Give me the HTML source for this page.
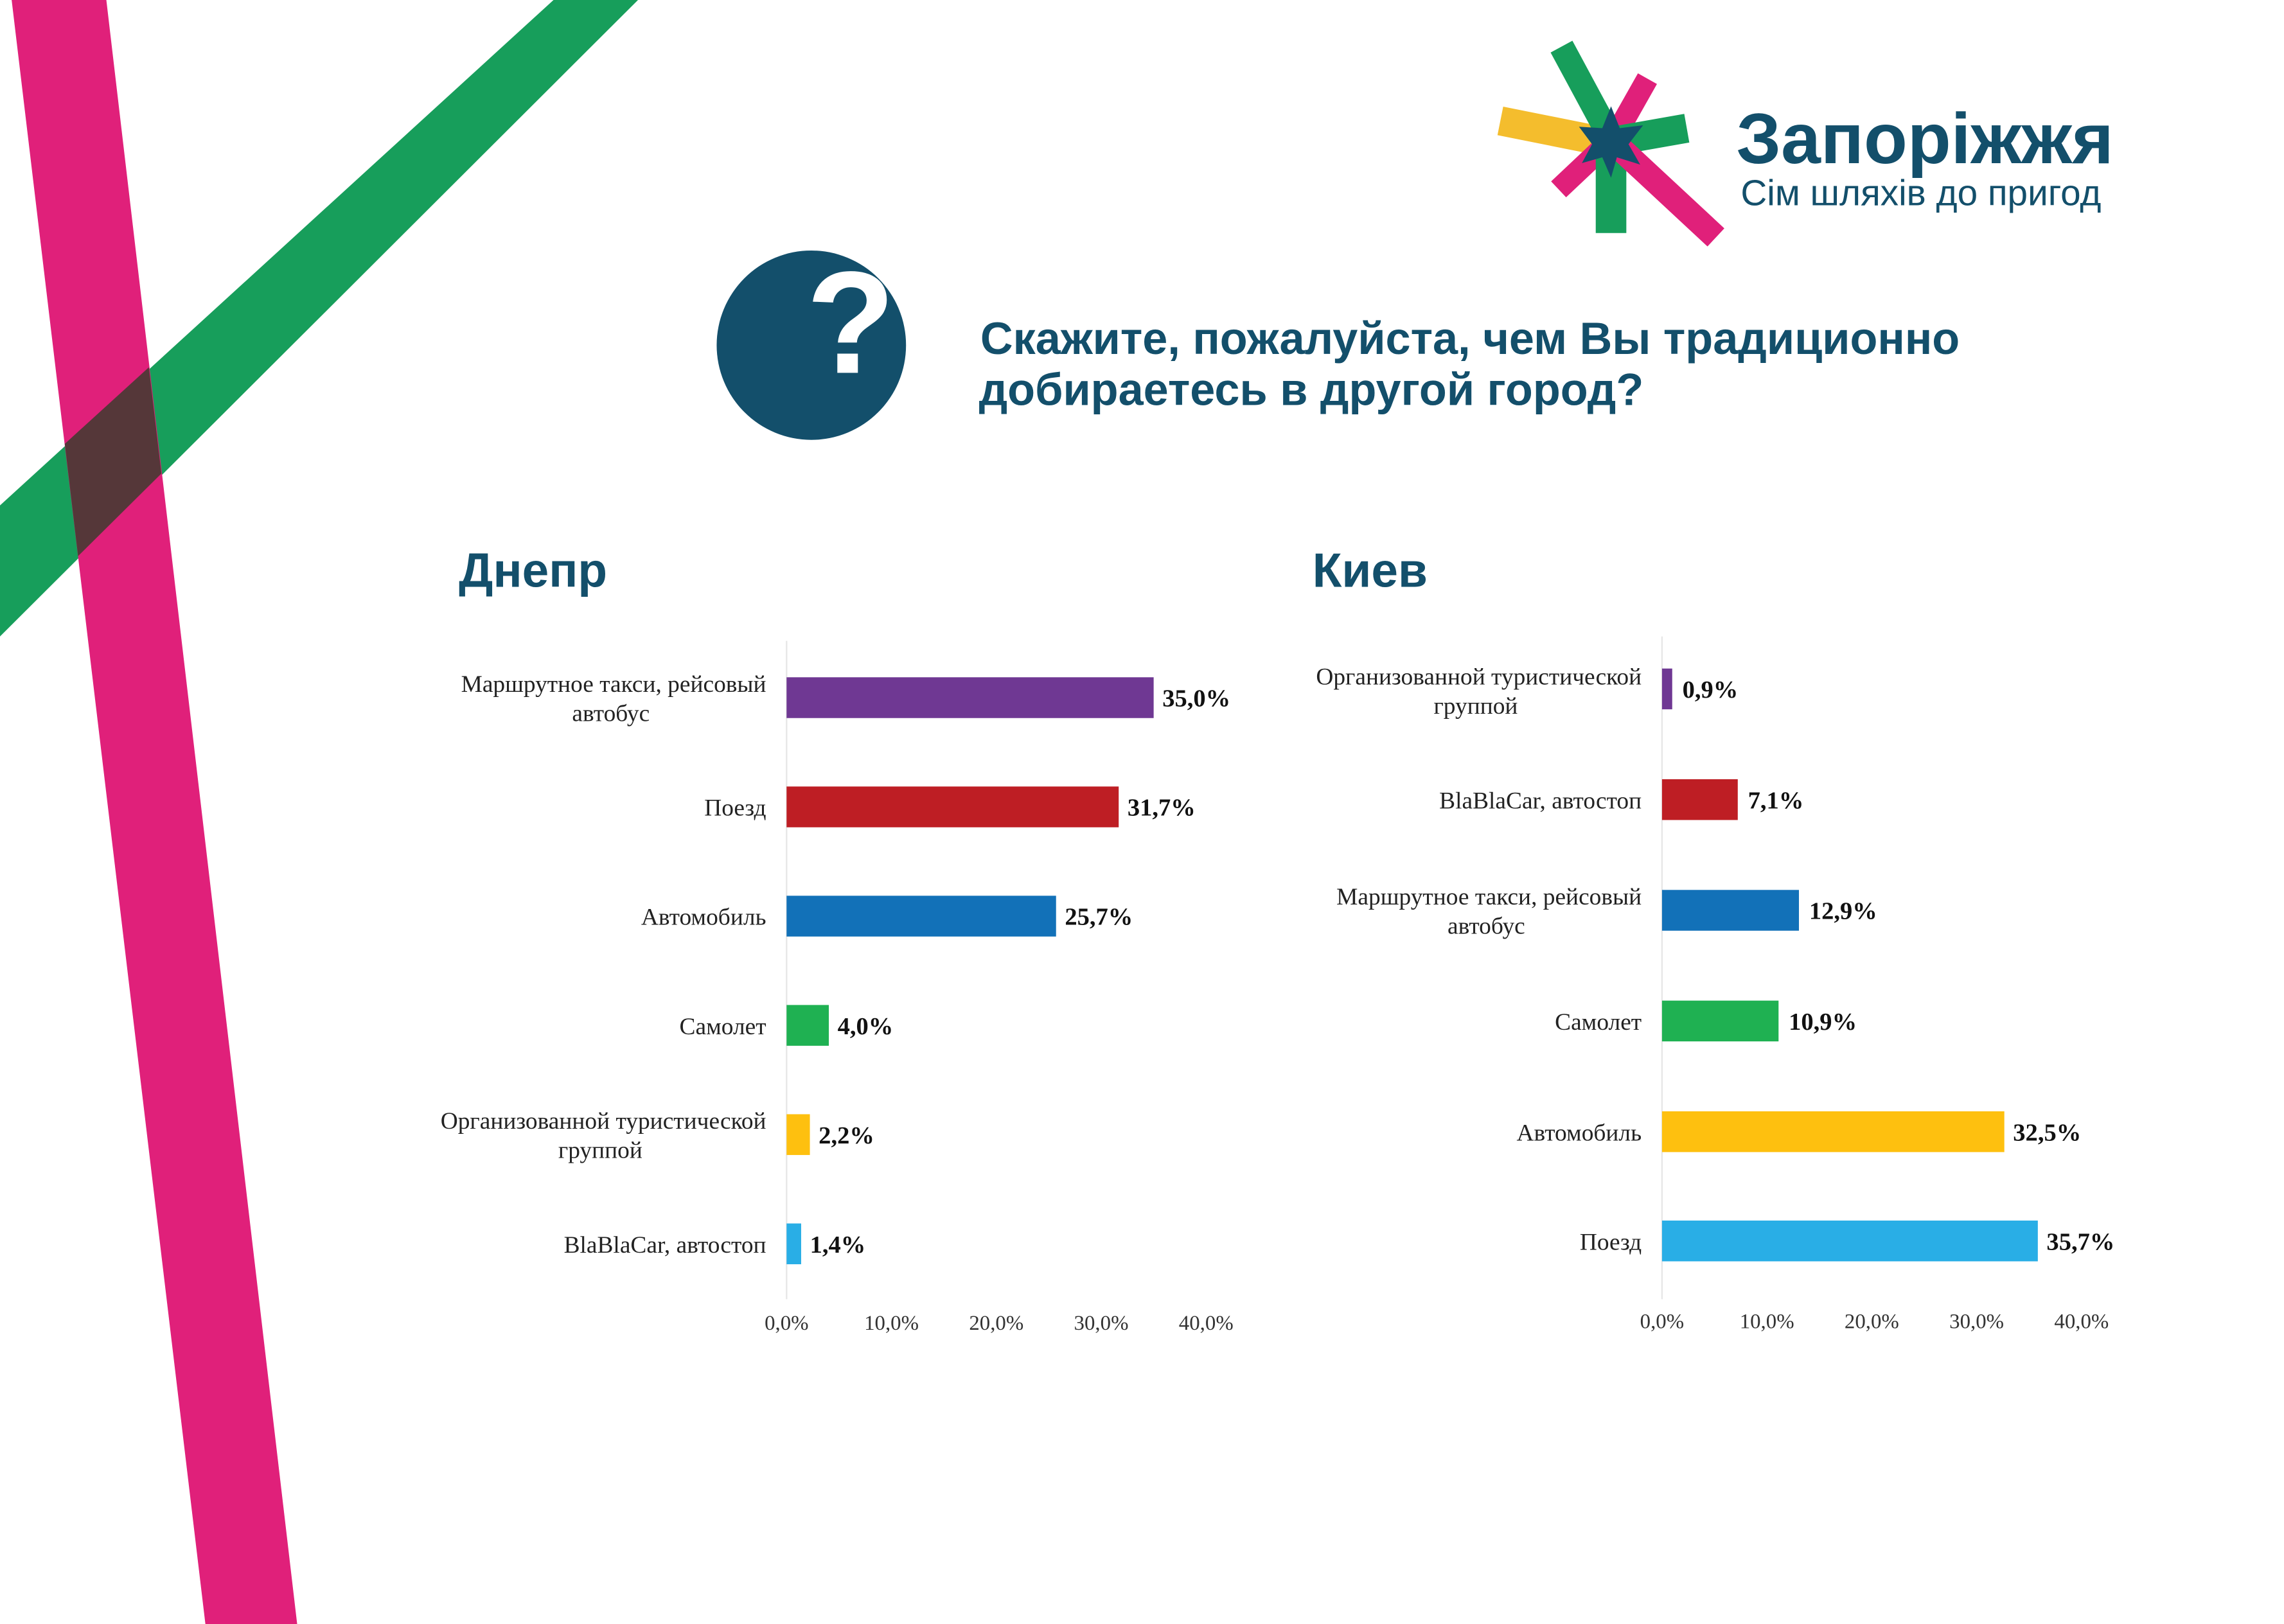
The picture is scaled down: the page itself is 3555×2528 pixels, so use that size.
<!DOCTYPE html>
<html><head><meta charset="utf-8"><style>
html,body{margin:0;padding:0;background:#fff;}
svg{display:block;}
.lab{font-family:"Liberation Serif",serif;font-size:16.5px;fill:#222;}
.val{font-family:"Liberation Serif",serif;font-size:17px;font-weight:bold;fill:#111;}
.tick{font-family:"Liberation Serif",serif;font-size:14.5px;fill:#333;}
.sans{font-family:"Liberation Sans","DejaVu Sans",sans-serif;fill:#134f6b;}
</style></head><body>
<svg width="3555" height="2528" viewBox="0 0 1568 1115" preserveAspectRatio="none" xmlns="http://www.w3.org/2000/svg">
<rect width="1600" height="1115" fill="#fff"/>
<polygon points="380,0 438,0 0,437 0,347" fill="#179e5b"/>
<polygon points="8,0 73,0 204,1115 141,1115" fill="#e0207a"/>
<polygon points="102.2,252.2 110.8,325.1 53.6,381.8 44.5,304.7" fill="#553739"/>
<g stroke-linecap="butt">
<line x1="1030" y1="83" x2="1100" y2="97" stroke="#f4bd2d" stroke-width="20"/>
<line x1="1072" y1="32" x2="1107" y2="97" stroke="#179e5b" stroke-width="17"/>
<line x1="1131" y1="54" x2="1105" y2="100" stroke="#e0207a" stroke-width="15"/>
<line x1="1107" y1="97" x2="1158" y2="88" stroke="#179e5b" stroke-width="20"/>
<line x1="1070" y1="130" x2="1105" y2="97" stroke="#e0207a" stroke-width="15"/>
<line x1="1106" y1="95" x2="1106" y2="160" stroke="#179e5b" stroke-width="21"/>
<line x1="1107" y1="97" x2="1178" y2="163" stroke="#e0207a" stroke-width="17"/>
<polygon points="1106,73 1112,88 1128,86 1118,99 1126,113 1110,108 1106,122 1100,108 1086,112 1093,99 1084,87 1100,88" fill="#134f6b"/>
</g>
<text x="1192" y="112" class="sans" font-size="49" font-weight="bold">Запоріжжя</text>
<text x="1195" y="141" class="sans" font-size="25">Сім шляхів до пригод</text>
<circle cx="557" cy="237" r="65" fill="#134f6b"/>
<text x="584" y="256" text-anchor="middle" font-family="Liberation Sans,sans-serif" font-weight="bold" font-size="100" fill="#fff">?</text>
<text x="673" y="243" class="sans" font-size="31" font-weight="bold">Скажите, пожалуйста, чем Вы традиционно</text>
<text x="672" y="278" class="sans" font-size="31" font-weight="bold">добираетесь в другой город?</text>
<text x="315" y="403" class="sans" font-size="33" font-weight="bold">Днепр</text>
<text x="901" y="403" class="sans" font-size="33" font-weight="bold">Киев</text>
<line x1="540" y1="440" x2="540" y2="892" stroke="#e6e6e6" stroke-width="1"/>
<rect x="540" y="465" width="252" height="28" fill="#6f3893"/>
<rect x="540" y="540" width="228" height="28" fill="#be1e24"/>
<rect x="540" y="615" width="185" height="28" fill="#1271b8"/>
<rect x="540" y="690" width="29" height="28" fill="#1fb152"/>
<rect x="540" y="765" width="16" height="28" fill="#fec00f"/>
<rect x="540" y="840" width="10" height="28" fill="#29aee6"/>
<g class="val">
<text x="798" y="485">35,0%</text>
<text x="774" y="560">31,7%</text>
<text x="731" y="635">25,7%</text>
<text x="575" y="710">4,0%</text>
<text x="562" y="785">2,2%</text>
<text x="556" y="860">1,4%</text>
</g>
<g class="lab" text-anchor="end">
<text x="526" y="475">Маршрутное такси, рейсовый</text>
<text x="446" y="495">автобус</text>
<text x="526" y="560">Поезд</text>
<text x="526" y="635">Автомобиль</text>
<text x="526" y="710">Самолет</text>
<text x="526" y="775">Организованной туристической</text>
<text x="441" y="795">группой</text>
<text x="526" y="860">BlaBlaCar, автостоп</text>
</g>
<g class="tick" text-anchor="middle">
<text x="540" y="913">0,0%</text>
<text x="612" y="913">10,0%</text>
<text x="684" y="913">20,0%</text>
<text x="756" y="913">30,0%</text>
<text x="828" y="913">40,0%</text>
</g>
<line x1="1141" y1="437" x2="1141" y2="892" stroke="#e6e6e6" stroke-width="1"/>
<rect x="1141" y="459" width="7" height="28" fill="#6f3893"/>
<rect x="1141" y="535" width="52" height="28" fill="#be1e24"/>
<rect x="1141" y="611" width="94" height="28" fill="#1271b8"/>
<rect x="1141" y="687" width="80" height="28" fill="#1fb152"/>
<rect x="1141" y="763" width="235" height="28" fill="#fec00f"/>
<rect x="1141" y="838" width="258" height="28" fill="#29aee6"/>
<g class="val">
<text x="1155" y="479">0,9%</text>
<text x="1200" y="555">7,1%</text>
<text x="1242" y="631">12,9%</text>
<text x="1228" y="707">10,9%</text>
<text x="1382" y="783">32,5%</text>
<text x="1405" y="858">35,7%</text>
</g>
<g class="lab" text-anchor="end">
<text x="1127" y="470">Организованной туристической</text>
<text x="1042" y="490">группой</text>
<text x="1127" y="555">BlaBlaCar, автостоп</text>
<text x="1127" y="621">Маршрутное такси, рейсовый</text>
<text x="1047" y="641">автобус</text>
<text x="1127" y="707">Самолет</text>
<text x="1127" y="783">Автомобиль</text>
<text x="1127" y="858">Поезд</text>
</g>
<g class="tick" text-anchor="middle">
<text x="1141" y="912">0,0%</text>
<text x="1213" y="912">10,0%</text>
<text x="1285" y="912">20,0%</text>
<text x="1357" y="912">30,0%</text>
<text x="1429" y="912">40,0%</text>
</g>
</svg>
</body></html>
